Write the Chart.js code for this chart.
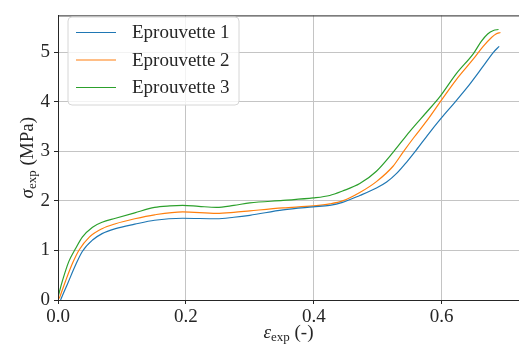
<!DOCTYPE html>
<html>
<head>
<meta charset="utf-8">
<script src="https://cdn.jsdelivr.net/npm/chart.js@4.4.0/dist/chart.umd.min.js"></script>
<style>
  html, body { margin: 0; padding: 0; background: #fff; }
  #wrap { width: 519px; height: 350px; }
</style>
</head>
<body>
<div id="wrap"><canvas id="stressChart" width="519" height="350"></canvas></div>
<script>
  // values
  const seriesLabels = ["Eprouvette 1", "Eprouvette 2", "Eprouvette 3"];
  const seriesColors = ["#1f77b4", "#ff7f0e", "#2ca02c"];

  const strain1 = [0.004, 0.015, 0.028, 0.038, 0.054, 0.069, 0.090, 0.12, 0.151, 0.195, 0.248, 0.275, 0.30, 0.352, 0.399, 0.425, 0.445, 0.472, 0.498, 0.514, 0.530, 0.545, 0.560, 0.580, 0.600, 0.620, 0.640, 0.665, 0.681, 0.690];
  const stress1 = [0.0, 0.33, 0.72, 0.98, 1.21, 1.34, 1.44, 1.53, 1.61, 1.65, 1.64, 1.67, 1.71, 1.82, 1.88, 1.91, 1.97, 2.11, 2.26, 2.38, 2.56, 2.78, 3.02, 3.36, 3.68, 3.98, 4.29, 4.72, 5.0, 5.12];

  const strain2 = [0.002, 0.012, 0.023, 0.033, 0.049, 0.069, 0.090, 0.12, 0.151, 0.195, 0.248, 0.275, 0.30, 0.352, 0.399, 0.425, 0.445, 0.472, 0.498, 0.524, 0.540, 0.556, 0.577, 0.600, 0.623, 0.650, 0.665, 0.678, 0.685, 0.692];
  const stress2 = [0.03, 0.39, 0.75, 1.01, 1.27, 1.44, 1.54, 1.64, 1.72, 1.78, 1.75, 1.77, 1.80, 1.86, 1.90, 1.94, 2.00, 2.17, 2.39, 2.70, 2.99, 3.27, 3.62, 4.04, 4.45, 4.87, 5.12, 5.30, 5.37, 5.40];

  const strain3 = [0.0, 0.007, 0.017, 0.028, 0.038, 0.054, 0.069, 0.090, 0.12, 0.151, 0.175, 0.195, 0.22, 0.248, 0.275, 0.30, 0.352, 0.399, 0.425, 0.445, 0.472, 0.498, 0.524, 0.550, 0.577, 0.597, 0.623, 0.650, 0.662, 0.672, 0.681, 0.689];
  const stress3 = [0.06, 0.39, 0.78, 1.05, 1.27, 1.47, 1.57, 1.65, 1.76, 1.87, 1.90, 1.91, 1.89, 1.87, 1.91, 1.96, 2.01, 2.06, 2.11, 2.20, 2.35, 2.60, 2.98, 3.40, 3.80, 4.10, 4.57, 4.98, 5.22, 5.37, 5.44, 5.46];

  const xTicks = [0.0, 0.2, 0.4, 0.6];
  const yTicks = [0, 1, 2, 3, 4, 5];

  const strains = [strain1, strain2, strain3];
  const stresses = [stress1, stress2, stress3];

  const serif = "'Liberation Serif', 'DejaVu Serif', serif";
  const ink = "#262626";

  const datasets = seriesLabels.map((label, i) => ({
    label: label,
    data: strains[i].map((x, j) => ({ x: x, y: stresses[i][j] })),
    borderColor: seriesColors[i],
    backgroundColor: seriesColors[i],
    borderWidth: 1.2,
    pointRadius: 0,
    cubicInterpolationMode: "monotone",
    fill: false,
  }));

  // frame (all four spines) drawn over the curves
  const framePlugin = {
    id: "frame",
    afterDatasetsDraw(chart) {
      const { ctx, chartArea: a } = chart;
      ctx.save();
      ctx.strokeStyle = ink;
      ctx.lineWidth = 1;
      ctx.strokeRect(a.left + 0.5, a.top + 0.5, a.right - a.left, a.bottom - a.top);
      ctx.restore();
    },
  };

  // axis titles with subscripts
  function drawTitle(ctx, parts) {
    let total = 0;
    parts.forEach((p) => {
      ctx.font = p.font;
      p.w = ctx.measureText(p.text).width;
      total += p.w;
    });
    let x = -total / 2;
    parts.forEach((p) => {
      ctx.font = p.font;
      ctx.fillText(p.text, x, p.dy || 0);
      x += p.w;
    });
  }

  const titlePlugin = {
    id: "titles",
    afterDraw(chart) {
      const { ctx, chartArea: a } = chart;
      ctx.save();
      ctx.fillStyle = ink;
      ctx.textBaseline = "alphabetic";
      ctx.textAlign = "left";
      // x title
      ctx.save();
      ctx.translate((a.left + a.right) / 2, 338);
      drawTitle(ctx, [
        { text: "ε", font: "italic 19px " + serif },
        { text: "exp", font: "13px " + serif, dy: 3 },
        { text: " (-)", font: "19px " + serif },
      ]);
      ctx.restore();
      // y title
      ctx.save();
      ctx.translate(33, (a.top + a.bottom) / 2);
      ctx.rotate(-Math.PI / 2);
      drawTitle(ctx, [
        { text: "σ", font: "italic 19px " + serif },
        { text: "exp", font: "13px " + serif, dy: 3 },
        { text: " (MPa)", font: "19px " + serif },
      ]);
      ctx.restore();
      ctx.restore();
    },
  };

  // legend box in the upper left corner
  const legendPlugin = {
    id: "boxLegend",
    afterDraw(chart) {
      const { ctx } = chart;
      const bx = 68, by = 17, bw = 171, bh = 88, r = 4;
      ctx.save();
      ctx.beginPath();
      ctx.moveTo(bx + r, by);
      ctx.arcTo(bx + bw, by, bx + bw, by + bh, r);
      ctx.arcTo(bx + bw, by + bh, bx, by + bh, r);
      ctx.arcTo(bx, by + bh, bx, by, r);
      ctx.arcTo(bx, by, bx + bw, by, r);
      ctx.closePath();
      ctx.fillStyle = "rgba(255,255,255,0.8)";
      ctx.fill();
      ctx.strokeStyle = "#d6d6d6";
      ctx.lineWidth = 1;
      ctx.stroke();
      chart.data.datasets.forEach((ds, i) => {
        const y = 32.5 + i * 27.5;
        ctx.strokeStyle = ds.borderColor;
        ctx.lineWidth = 1.2;
        ctx.beginPath();
        ctx.moveTo(76, y);
        ctx.lineTo(116, y);
        ctx.stroke();
        ctx.fillStyle = ink;
        ctx.font = "19px " + serif;
        ctx.textBaseline = "middle";
        ctx.fillText(ds.label, 132, y + 1);
      });
      ctx.restore();
    },
  };

  const stressCtx = document.getElementById("stressChart").getContext("2d");
  const stressChart = new Chart(stressCtx, {
    type: "line",
    data: { datasets: datasets },
    options: {
      responsive: false,
      animation: false,
      layout: { padding: { top: 6, right: 0, left: 0, bottom: 0 } },
      plugins: {
        legend: { display: false },
        tooltip: { enabled: false },
      },
      scales: {
        x: {
          type: "linear",
          min: 0,
          max: 0.721,
          afterFit: (scale) => { scale.height = 50; },
          afterBuildTicks: (scale) => { scale.ticks = xTicks.map((v) => ({ value: v })); },
          grid: { color: "#c4c4c4", lineWidth: 1, tickColor: ink, tickLength: 4 },
          border: { color: ink, width: 1 },
          ticks: {
            color: ink,
            padding: 2,
            maxRotation: 0,
            font: { family: serif, size: 19 },
            callback: (v) => Number(v).toFixed(1),
          },
        },
        y: {
          type: "linear",
          min: 0,
          max: 5.745,
          afterFit: (scale) => { scale.width = 58; },
          afterBuildTicks: (scale) => { scale.ticks = yTicks.map((v) => ({ value: v })); },
          grid: { color: "#c4c4c4", lineWidth: 1, tickColor: ink, tickLength: 4 },
          border: { color: ink, width: 1 },
          ticks: {
            color: ink,
            padding: 4,
            font: { family: serif, size: 19 },
            callback: (v) => String(v),
          },
        },
      },
    },
    plugins: [framePlugin, titlePlugin, legendPlugin],
  });
</script>
</body>
</html>
